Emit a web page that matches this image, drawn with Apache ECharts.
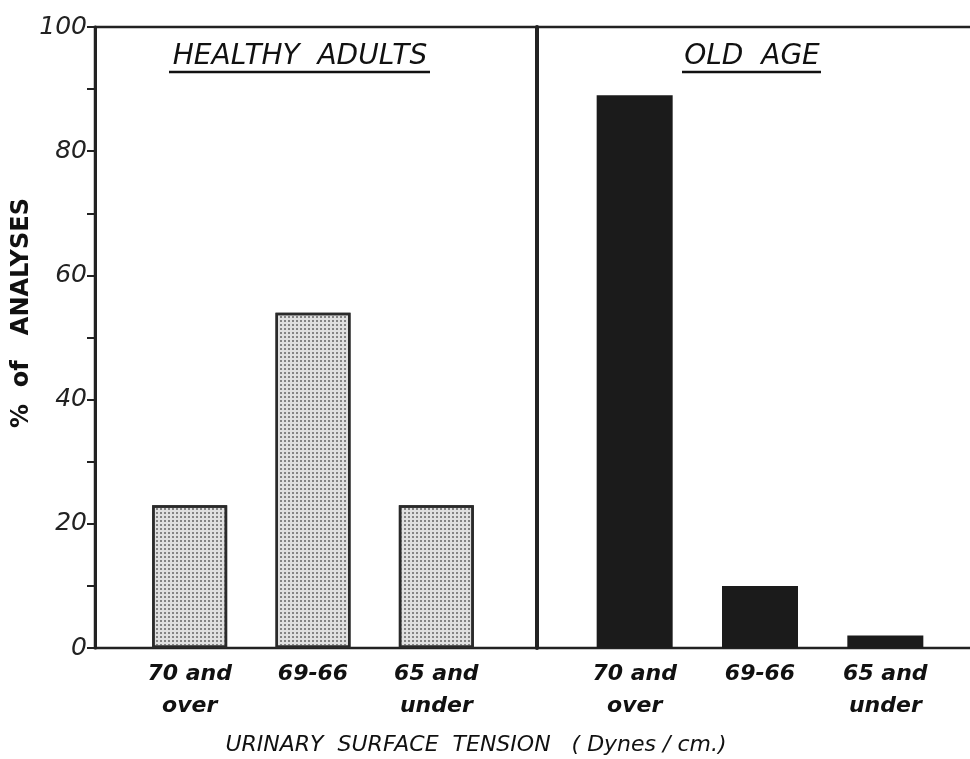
<!DOCTYPE html>
<html><head><meta charset="utf-8">
<script src="https://cdn.jsdelivr.net/npm/echarts@6/dist/echarts.min.js"></script>
<style>html,body{margin:0;padding:0;background:#fff}#c{width:970px;height:759px}</style>
</head><body><div id="c"></div>
<script>
const categories = ['70 and\nover', '69-66', '65 and\nunder'];
const oldCategories = ['70 and\nover', '69-66', '65 and\nunder'];
const healthyAdults = [23, 54, 23];
const oldAge = [89, 10, 2];
const yTicks = [0, 20, 40, 60, 80, 100];
const panelTitles = ['HEALTHY  ADULTS', 'OLD  AGE'];
const xAxisTitle = 'URINARY  SURFACE  TENSION   ( Dynes / cm.)';
const yAxisTitle = '%  of   ANALYSES';

(function () {
const FONT = '"DejaVu Sans", "Liberation Sans", sans-serif';
const chart = echarts.init(document.getElementById('c'));
const gTop = 27, gBottom = 111;
const hiddenY = (gi) => ({gridIndex: gi, type: 'value', min: 0, max: 100, show: false});
const catX = (gi, data) => ({
  gridIndex: gi, type: 'category', data: data,
  axisLine: {show: false}, axisTick: {show: false},
  axisLabel: {margin: 10, fontFamily: FONT, fontStyle: 'italic', fontWeight: 'bold', fontSize: 22, color: '#111', lineHeight: 32, interval: 0}
});
const option = {
  animation: false,
  backgroundColor: '#fff',
  grid: [
    {left: 95, right: -5, top: gTop, bottom: gBottom, show: true, borderColor: '#222', borderWidth: 2.5, outerBoundsMode: 'none', containLabel: false},
    {left: 128, width: 370, top: gTop, bottom: gBottom, outerBoundsMode: 'none', containLabel: false},
    {left: 572, width: 376, top: gTop, bottom: gBottom, outerBoundsMode: 'none', containLabel: false}
  ],
  xAxis: [
    {gridIndex: 0, type: 'value', min: 0, max: 1, show: false},
    catX(1, categories),
    catX(2, oldCategories)
  ],
  yAxis: [
    {gridIndex: 0, type: 'value', min: 0, max: 100, interval: 20,
      axisLine: {show: true, lineStyle: {color: '#222', width: 3}},
      axisTick: {show: true, length: 8, lineStyle: {color: '#222', width: 2}},
      minorTick: {show: true, splitNumber: 2, length: 8, lineStyle: {color: '#222', width: 2}},
      splitLine: {show: false},
      axisLabel: {margin: 8, fontFamily: FONT, fontStyle: 'italic', fontSize: 25, color: '#222',
        formatter: v => yTicks.includes(v) ? String(v) : ''}
    },
    hiddenY(1),
    {gridIndex: 2, type: 'value', min: 0, max: 100, offset: 35,
      axisLine: {show: true, lineStyle: {color: '#222', width: 4}},
      axisTick: {show: false}, axisLabel: {show: false}, splitLine: {show: false}}
  ],
  graphic: [
    {type: 'text', x: 300, y: 43, style: {text: panelTitles[0], font: 'italic 28px ' + FONT, fill: '#111', align: 'center', verticalAlign: 'top'}},
    {type: 'line', shape: {x1: 169, y1: 72, x2: 430, y2: 72}, style: {stroke: '#111', lineWidth: 2.5}},
    {type: 'text', x: 752, y: 43, style: {text: panelTitles[1], font: 'italic 28px ' + FONT, fill: '#111', align: 'center', verticalAlign: 'top'}},
    {type: 'line', shape: {x1: 682, y1: 72, x2: 821, y2: 72}, style: {stroke: '#111', lineWidth: 2.5}},
    {type: 'text', x: 476, y: 734, style: {text: xAxisTitle, font: 'italic 22px ' + FONT, fill: '#111', align: 'center', verticalAlign: 'top'}},
    {type: 'text', x: 22, y: 313, rotation: Math.PI / 2, style: {text: yAxisTitle, font: 'bold 24px ' + FONT, fill: '#111', align: 'center', verticalAlign: 'middle'}}
  ],
  series: [
    {type: 'bar', xAxisIndex: 1, yAxisIndex: 1, data: healthyAdults, barWidth: 75,
      itemStyle: {color: '#e0e0e0', borderColor: '#2a2a2a', borderWidth: 2.5,
        decal: {symbol: 'rect', symbolSize: 0.9, dashArrayX: [2, 1.4], dashArrayY: [2, 1.4], color: '#7a7a7a'}}},
    {type: 'bar', xAxisIndex: 2, yAxisIndex: 2, data: oldAge, barWidth: 76,
      itemStyle: {color: '#1b1b1b'}}
  ]
};
chart.setOption(option);
})();
</script></body></html>
